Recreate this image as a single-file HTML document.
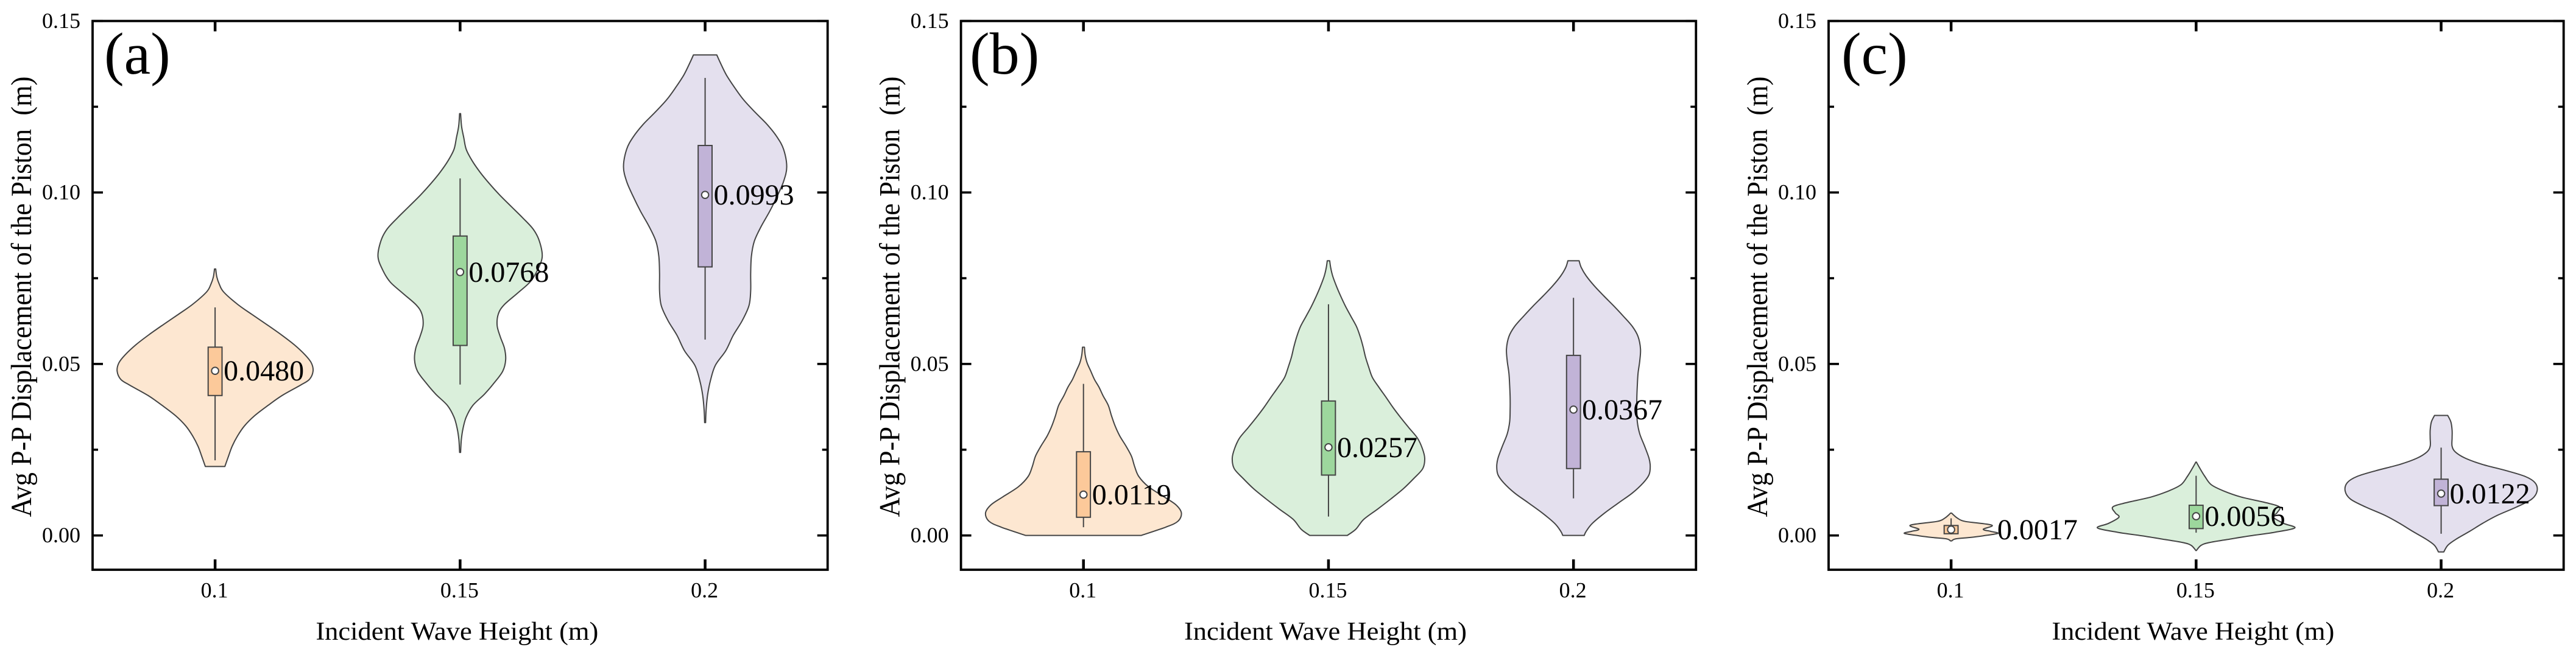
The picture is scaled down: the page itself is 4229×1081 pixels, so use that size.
<!DOCTYPE html>
<html lang="en">
<head>
<meta charset="utf-8">
<title>Violin plots of piston displacement</title>
<style>
html,body{margin:0;padding:0;background:#fff;}
svg{display:block;}
text{font-family:"Liberation Serif",serif;fill:#000;}
</style>
</head>
<body>
<svg id="chart" xmlns="http://www.w3.org/2000/svg" width="4229" height="1081" viewBox="0 0 4229 1081"></svg>
<script>
// ---- shared axis data ----
const categories = ['0.1', '0.15', '0.2'];
const yTickValues = [0, 0.05, 0.1, 0.15];
const yTickLabels = ['0.00', '0.05', '0.10', '0.15'];
const yMinorTickValues = [0.025, 0.075, 0.125];
const yDomain = [-0.01, 0.15];
const panelLetters = ['a', 'b', 'c'];
const panelLabels = ['(a)', '(b)', '(c)'];
const xAxisTitle = 'Incident Wave Height (m)';
const yAxisTitle = 'Avg P-P Displacement of the Piston\u00A0\u00A0(m)';

// ---- panel (a) ----
const aMedian = [0.0480, 0.0768, 0.0993];
const aQ1 = [0.0408, 0.0554, 0.0783];
const aQ3 = [0.0549, 0.0873, 0.1137];
const aWhiskerLow = [0.0219, 0.0440, 0.0571];
const aWhiskerHigh = [0.0665, 0.1041, 0.1334];
const aValues1 = [0.0777,0.0754,0.0733,0.0710,0.0674,0.0645,0.0615,0.0586,0.0556,0.0526,0.0503,0.0479,0.0455,0.0438,0.0408,0.0379,0.0349,0.0319,0.0290,0.0260,0.0231,0.0201];
const aDensity1 = [0.25,0.7,1.7,3.5,9.2,15,21.2,27,32.5,37,39.5,40.2,38.7,35,27.5,21.7,16.2,12,9.2,7,5.5,4];
const aValues2 = [0.1230,0.1193,0.1160,0.1126,0.1093,0.1059,0.1026,0.0993,0.0959,0.0926,0.0893,0.0859,0.0813,0.0773,0.0739,0.0706,0.0672,0.0646,0.0612,0.0579,0.0546,0.0512,0.0479,0.0445,0.0412,0.0379,0.0345,0.0312,0.0279,0.0242];
const aDensity2 = [0.2,0.6,1.5,2.5,4.9,8.2,12,16.2,21,25.7,30,32.5,33.7,31.7,28.7,23.5,18,15.7,15.2,16.5,18.2,18.7,17.5,14,10,5.2,2.5,1.2,0.5,0.2];
const aValues3 = [0.1401,0.1379,0.1343,0.1307,0.1271,0.1234,0.1198,0.1162,0.1126,0.1075,0.1032,0.0988,0.0945,0.0901,0.0858,0.0814,0.0764,0.0713,0.0670,0.0626,0.0583,0.0539,0.0496,0.0452,0.0409,0.0365,0.0329];
const aDensity3 = [4.8,6.2,8.7,12,15.7,20.5,25.5,29.5,32.2,33.5,32.2,29.5,26.5,23,20.2,19,18.7,18.7,18,15.2,11.5,8.5,4.2,2.2,1,0.4,0.2];

// ---- panel (b) ----
const bMedian = [0.0119, 0.0257, 0.0367];
const bQ1 = [0.0053, 0.0176, 0.0195];
const bQ3 = [0.0244, 0.0392, 0.0525];
const bWhiskerLow = [0.0024, 0.0055, 0.0108];
const bWhiskerHigh = [0.0442, 0.0674, 0.0693];
const bValues1 = [0.0549,0.0526,0.0503,0.0479,0.0455,0.0432,0.0408,0.0379,0.0349,0.0319,0.0290,0.0260,0.0231,0.0201,0.0172,0.0142,0.0112,0.0089,0.0065,0.0041,0.0024,0];
const bDensity1 = [0.4,0.7,1.5,3,4.5,6.4,8,10.2,11.5,13,14.9,17.5,19.7,21,22.7,26.7,33.2,38,40.2,38.7,33.7,23.7];
const bValues2 = [0.0801,0.0781,0.0757,0.0728,0.0698,0.0668,0.0639,0.0609,0.0580,0.0550,0.0520,0.0491,0.0461,0.0432,0.0402,0.0373,0.0343,0.0314,0.0284,0.0254,0.0225,0.0195,0.0166,0.0136,0.0107,0.0077,0.0047,0.0018,0];
const bDensity2 = [0.5,0.9,1.7,3.2,5,7,9.2,11.5,13,14.2,15.2,16.5,18,20.7,23.7,26.5,29.7,33,36.5,38.5,39.5,38.7,35,30.7,25.7,20.2,14.5,11.2,7.7];
const bValues3 = [0.0801,0.0781,0.0757,0.0728,0.0698,0.0668,0.0639,0.0609,0.0580,0.0544,0.0509,0.0473,0.0438,0.0402,0.0367,0.0331,0.0296,0.0260,0.0225,0.0201,0.0177,0.0154,0.0124,0.0095,0.0065,0.0035,0.0012,0];
const bDensity3 = [2.3,3.2,5.2,8.5,12.5,16.7,20.5,24.2,26.5,27.5,27.2,26.5,26.2,26,26,26.2,27.2,29.2,31,31.5,31,28.7,24.2,18.5,12.7,7.7,5.2,4.4];

// ---- panel (c) ----
const cMedian = [0.0017, 0.0056, 0.0122];
const cQ1 = [0.0005, 0.0020, 0.0087];
const cQ3 = [0.0029, 0.0088, 0.0164];
const cWhiskerLow = [0.0003, 0.0008, 0.0005];
const cWhiskerHigh = [0.0050, 0.0174, 0.0256];
const cValues1 = [0.0065,0.0059,0.0050,0.0041,0.0030,0.0018,0.0012,0.0006,-0.0001,-0.0006,-0.0010,-0.0016];
const cDensity1 = [0.25,1.1,2.7,5.7,16.7,13.2,16.2,19.2,13.2,7.7,1.9,0.2];
const cValues2 = [0.0214,0.0195,0.0172,0.0148,0.0130,0.0112,0.0095,0.0083,0.0066,0.0053,0.0035,0.0022,0.0009,-0.0001,-0.0012,-0.0021,-0.0029,-0.0044];
const cDensity2 = [0.1,1.6,3.6,6.2,11.2,18.5,29,34.2,33.2,31.7,36,40.5,32,22.2,12.7,5.2,2,0.1];
const cValues3 = [0.0350,0.0331,0.0307,0.0284,0.0260,0.0243,0.0225,0.0207,0.0189,0.0172,0.0154,0.0130,0.0106,0.0083,0.0059,0.0036,0.0012,-0.0012,-0.0029,-0.0048];
const cDensity3 = [2.7,4,4.5,4.5,4.5,5.9,10,17,26.7,34.5,38.5,39.4,37.2,31,23.2,17.2,11.7,5.9,2.7,1.1];

// ---- styling and layout (not data) ----
const violinFills = ['#FDE7D1', '#DAEFDB', '#E4E0EE'];
const boxFills = ['#FCC99A', '#9DD79D', '#C1B3D7'];
const INK = '#444444';
const PLOT_TOP = 34.5, PLOT_BOTTOM = 936, PLOT_WIDTH = 1206.7;
const PX_PER_DENSITY = 4, BOX_HALF = 11.4;

const svg = document.getElementById('chart');
const NS = 'http://www.w3.org/2000/svg';

function make(tag, attrs, parent) {
  const el = document.createElementNS(NS, tag);
  for (const k in attrs) el.setAttribute(k, attrs[k]);
  (parent || svg).appendChild(el);
  return el;
}

function yScale(v) {
  return PLOT_BOTTOM - (v - yDomain[0]) / (yDomain[1] - yDomain[0]) * (PLOT_BOTTOM - PLOT_TOP);
}

function xScale(left, i) {
  return left + (i + 0.5) * PLOT_WIDTH / categories.length;
}

function smoothSegment(pts) {
  let d = '';
  for (let i = 0; i < pts.length - 1; i++) {
    const p0 = pts[Math.max(i - 1, 0)], p1 = pts[i], p2 = pts[i + 1], p3 = pts[Math.min(i + 2, pts.length - 1)];
    const c1x = p1[0] + (p2[0] - p0[0]) / 6, c1y = p1[1] + (p2[1] - p0[1]) / 6;
    const c2x = p2[0] - (p3[0] - p1[0]) / 6, c2y = p2[1] - (p3[1] - p1[1]) / 6;
    d += 'C' + c1x.toFixed(2) + ' ' + c1y.toFixed(2) + ' ' + c2x.toFixed(2) + ' ' + c2y.toFixed(2) + ' ' + p2[0].toFixed(2) + ' ' + p2[1].toFixed(2);
  }
  return d;
}

function violinPath(cx, values, density) {
  const right = values.map((v, i) => [cx + density[i] * PX_PER_DENSITY, yScale(v)]);
  const left = values.map((v, i) => [cx - density[i] * PX_PER_DENSITY, yScale(v)]).reverse();
  return 'M' + right[0][0].toFixed(2) + ' ' + right[0][1].toFixed(2) + smoothSegment(right) +
    'L' + left[0][0].toFixed(2) + ' ' + left[0][1].toFixed(2) + smoothSegment(left) + 'Z';
}

function drawAxes(g, left, letter) {
  const right = left + PLOT_WIDTH;
  yTickValues.forEach((v, i) => {
    const y = yScale(v);
    [[left, left + 17], [right, right - 17]].forEach((s) => {
      const t = make('line', {x1: s[0], x2: s[1], y1: y, y2: y, stroke: '#000', 'stroke-width': 3.6}, g);
      
      
    });
    const lab = make('text', {x: left - 20, y: y + 11.5, 'font-size': 36, 'text-anchor': 'end'}, g);
    
    
    lab.textContent = yTickLabels[i];
  });
  yMinorTickValues.forEach((v) => {
    const y = yScale(v);
    [[left, left + 9], [right, right - 9]].forEach((s) => {
      const t = make('line', {x1: s[0], x2: s[1], y1: y, y2: y, stroke: '#000', 'stroke-width': 3.6}, g);
      
      
    });
  });
  categories.forEach((c, i) => {
    const x = xScale(left, i);
    [[PLOT_BOTTOM, PLOT_BOTTOM - 17], [PLOT_TOP, PLOT_TOP + 17]].forEach((s) => {
      const t = make('line', {x1: x, x2: x, y1: s[0], y2: s[1], stroke: '#000', 'stroke-width': 4.5}, g);
      
      
    });
    const lab = make('text', {x: x - 1, y: 981.5, 'font-size': 36, 'text-anchor': 'middle'}, g);
    
    
    lab.textContent = c;
  });
  const frame = make('rect', {x: left, y: PLOT_TOP, width: PLOT_WIDTH, height: PLOT_BOTTOM - PLOT_TOP, fill: 'none', stroke: '#000', 'stroke-width': 3.8}, g);
  
  

  const xt = make('text', {transform: 'translate(' + (left + PLOT_WIDTH / 2 - 5) + ',1051) scale(1.06,1)', 'font-size': 42, 'text-anchor': 'middle'}, g);
  
  
  xt.textContent = xAxisTitle;

  const yt = make('text', {transform: 'translate(' + (left - 101) + ',487.5) rotate(-90) scale(1,1.08)', 'font-size': 44.4, 'text-anchor': 'middle'}, g);
  
  
  yt.textContent = yAxisTitle;
}

function drawViolin(g, cx, i, letter, values, density, stats) {
  const vg = make('g', {}, g);
  
  

  const body = make('path', {d: violinPath(cx, values, density), fill: violinFills[i], stroke: INK, 'stroke-width': 2, 'stroke-linejoin': 'round'}, vg);
  
  

  const whisker = make('line', {x1: cx, x2: cx, y1: yScale(stats.high[i]), y2: yScale(stats.low[i]), stroke: INK, 'stroke-width': 2}, vg);
  
  

  const box = make('rect', {x: cx - BOX_HALF, y: yScale(stats.q3[i]), width: BOX_HALF * 2, height: yScale(stats.q1[i]) - yScale(stats.q3[i]), fill: boxFills[i], stroke: INK, 'stroke-width': 2}, vg);
  
  

  const my = yScale(stats.median[i]);
  const dot = make('circle', {cx: cx, cy: my, r: 5.8, fill: '#fff', stroke: INK, 'stroke-width': 2}, vg);
  
  

  const maxHalf = Math.max.apply(null, density) * PX_PER_DENSITY;
  const dx = maxHalf < 100 ? maxHalf - 1 : 14;
  const lab = make('text', {x: cx + dx, y: my + 16, 'font-size': 48}, vg);
  
  
  lab.textContent = stats.median[i].toFixed(4);
}

const panels = [
  {left: 152, labelX: 171, stats: {median: aMedian, q1: aQ1, q3: aQ3, low: aWhiskerLow, high: aWhiskerHigh},
   values: [aValues1, aValues2, aValues3], density: [aDensity1, aDensity2, aDensity3]},
  {left: 1577.6, labelX: 1592, stats: {median: bMedian, q1: bQ1, q3: bQ3, low: bWhiskerLow, high: bWhiskerHigh},
   values: [bValues1, bValues2, bValues3], density: [bDensity1, bDensity2, bDensity3]},
  {left: 3002, labelX: 3023, stats: {median: cMedian, q1: cQ1, q3: cQ3, low: cWhiskerLow, high: cWhiskerHigh},
   values: [cValues1, cValues2, cValues3], density: [cDensity1, cDensity2, cDensity3]}
];

panels.forEach((p, n) => {
  const g = make('g', {});
  
  
  categories.forEach((c, i) => {
    drawViolin(g, xScale(p.left, i), i, panelLetters[n], p.values[i], p.density[i], p.stats);
  });
  drawAxes(g, p.left, panelLetters[n]);
  const tag = make('text', {x: p.labelX, y: 121, 'font-size': 98}, g);
  
  
  tag.textContent = panelLabels[n];
});
</script>
</body>
</html>
